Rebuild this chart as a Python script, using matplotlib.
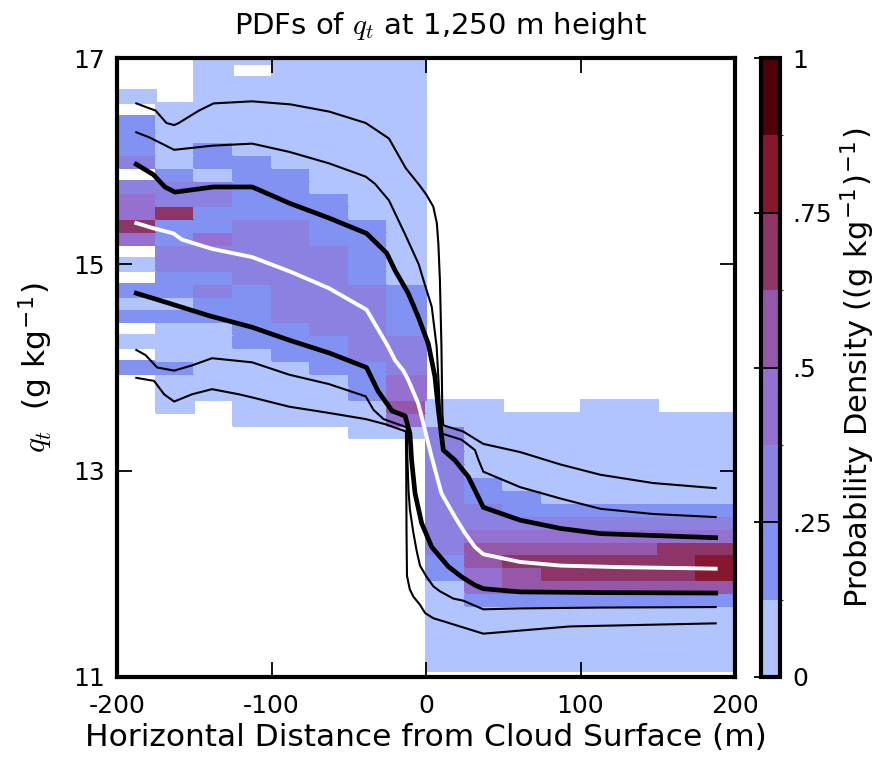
import numpy as np
import matplotlib
matplotlib.use("Agg")
import matplotlib.pyplot as plt
from matplotlib.colors import ListedColormap, BoundaryNorm

plt.rcParams["axes.unicode_minus"] = False
plt.rcParams["mathtext.fontset"] = "custom"
plt.rcParams["mathtext.it"] = "cmmi10"
plt.rcParams["mathtext.rm"] = "DejaVu Sans"

# histogram bins: 25 m in distance, 0.125 g/kg in q_t
x_edges = np.arange(-200, 201, 25)
y_edges = np.arange(11.0625, 17.1, 0.125)

# density class for each cell, top row (q_t = 17) first,
# '.' = no samples, digit = colour class of the colourbar (0 .. 7)
pdf_rows = [
    "..000000........",
    "..0.0000........",
    "..000000........",
    "0.000000........",
    ".0000000........",
    "10000000........",
    "10000000........",
    "10100000........",
    "20110000........",
    ".1011000........",
    "22211000........",
    "32211100........",
    "35111100........",
    "51122110........",
    "31322110........",
    ".2222210........",
    "02222210........",
    ".1122210........",
    "11212221........",
    "00112221........",
    "11112221........",
    ".0011221........",
    "00011122........",
    ".0001122........",
    "11000112........",
    ".0000013........",
    ".0000013........",
    ".0.0000400..00..",
    "...0000300000000",
    "......0020000000",
    "........20000000",
    "........20000000",
    "........20000000",
    "........21000000",
    "........21100000",
    "........22111111",
    "........22222222",
    "........23333333",
    "........24444455",
    "........14555556",
    "........13455556",
    "........03444444",
    "........01111111",
    "........00000000",
    "........00000000",
    "........00000000",
    "........00000000",
    "........00000000",
]
class_density = [0.06, 0.19, 0.31, 0.44, 0.56, 0.69, 0.81, 0.94]

level_colors = ["#b2c4fd", "#8192f2", "#8b81e1", "#9570d0",
                "#9558a8", "#8c3566", "#87172e", "#520008"]
level_bounds = [0, 0.125, 0.25, 0.375, 0.5, 0.625, 0.75, 0.875, 1.0]

# percentile curves
p95_x = [-187.5, -175, -168, -163, -160, -147, -137.5, -112.5, -87.5, -62.5, -39, -24, -13,
         -4.4, 0, 4.7, 7, 8, 9, 10, 10.6, 11.2, 24, 37, 61, 87, 113, 147, 187.5]
p95_y = [16.56, 16.49, 16.37, 16.35, 16.37, 16.49, 16.56, 16.58, 16.55, 16.48, 16.37, 16.22, 15.93,
         15.77, 15.68, 15.56, 15.40, 15.20, 14.85, 14.20, 13.55, 13.44, 13.38, 13.26, 13.18, 13.06,
         12.96, 12.88, 12.83]

p90_x = [-187.5, -179, -163, -138.5, -112.5, -88.5, -63, -39, -33, -24, -13.5, -4.7, -1.7, 3.7,
         6.9, 8.0, 9.1, 10.2, 23, 31.7, 33.8, 37.1, 61, 87, 113, 147, 187.5]
p90_y = [16.28, 16.23, 16.11, 16.15, 16.17, 16.09, 15.98, 15.85, 15.78, 15.62, 15.29, 15.00, 14.85,
         14.59, 14.20, 13.90, 13.57, 13.36, 13.30, 13.20, 13.11, 12.99, 12.84, 12.73, 12.63, 12.58,
         12.55]

p75_x = [-187.5, -176.5, -169, -162.5, -137.5, -112.5, -88, -63, -38.5, -25.5, -20, -11.5, -5,
         1.5, 5.8, 8.0, 11.2, 18.8, 27.4, 31.7, 37.1, 61, 87, 113, 187.5]
p75_y = [15.97, 15.87, 15.75, 15.70, 15.75, 15.75, 15.59, 15.45, 15.30, 15.11, 14.94, 14.72, 14.49,
         14.23, 13.91, 13.59, 13.20, 13.10, 12.94, 12.81, 12.645, 12.52, 12.44, 12.39, 12.35]

p50_x = [-187.5, -176.5, -163.5, -158, -138.5, -112.5, -88, -63, -38.5, -25.5, -20, -14.7, -11.5,
         -5, -0.6, 3.7, 10, 18.8, 25, 31.7, 37.1, 61, 87, 125, 187.5]
p50_y = [15.40, 15.35, 15.30, 15.24, 15.15, 15.07, 14.93, 14.77, 14.56, 14.23, 14.07, 13.97, 13.88,
         13.65, 13.39, 13.13, 12.78, 12.55, 12.40, 12.26, 12.19, 12.115, 12.08, 12.065, 12.05]

p25_x = [-187.5, -170, -140, -112.5, -87.5, -62.5, -38.5, -31, -22, -13.5, -10.4, -9.3, -7.1, -2.8,
         3.7, 14.5, 23.1, 31.7, 37.1, 61, 113, 187.5]
p25_y = [14.72, 14.64, 14.50, 14.39, 14.26, 14.14, 14.00, 13.77, 13.58, 13.53, 13.36, 13.10, 12.78,
         12.49, 12.26, 12.07, 11.97, 11.89, 11.856, 11.825, 11.818, 11.814]

p10_x = [-187.5, -181.5, -174, -163, -151.5, -138.5, -112.5, -88.5, -63, -39, -34, -27.5, -12.5,
         -12, -11.3, -10.4, -8.2, -6, -3.9, 0, 4.7, 9.1, 17.7, 24.1, 37.1, 61, 113, 187.5]
p10_y = [14.17, 14.12, 14.00, 13.97, 14.02, 14.09, 14.05, 13.93, 13.84, 13.72, 13.59, 13.50, 13.42,
         13.10, 12.80, 12.62, 12.40, 12.22, 12.08, 11.98, 11.88, 11.83, 11.76, 11.74, 11.656, 11.665,
         11.673, 11.678]

p5_x = [-187.5, -176, -169.5, -163, -151.5, -138.5, -121, -112.5, -88.5, -63, -39, -26.3, -13,
        -12.8, -12.6, -12.3, -10.5, -8.2, -3.9, -0.6, 4.7, 13.4, 37.1, 61, 93, 187.5]
p5_y = [13.90, 13.87, 13.74, 13.67, 13.74, 13.79, 13.74, 13.71, 13.62, 13.56, 13.50, 13.45, 13.38,
        13.0, 12.4, 11.98, 11.85, 11.78, 11.70, 11.62, 11.57, 11.53, 11.42, 11.45, 11.49, 11.52]

# build density grid (flip so the first row is the lowest q_t bin)
dens = np.full((len(pdf_rows), len(pdf_rows[0])), np.nan)
for i, row in enumerate(pdf_rows):
    for j, c in enumerate(row):
        if c != ".":
            dens[i, j] = class_density[int(c)]
dens = np.ma.masked_invalid(dens[::-1])

cmap = ListedColormap(level_colors)
norm = BoundaryNorm(level_bounds, cmap.N)

fig = plt.figure(figsize=(8.82, 7.58), dpi=100)
ax = fig.add_axes([117 / 882, 81 / 758, 618 / 882, 619 / 758])
cax = fig.add_axes([761 / 882, 81 / 758, 19 / 882, 619 / 758])

mesh = ax.pcolormesh(x_edges, y_edges, dens, cmap=cmap, norm=norm,
                     edgecolors="face", linewidth=0.2)

for xs, ys in [(p95_x, p95_y), (p90_x, p90_y), (p10_x, p10_y), (p5_x, p5_y)]:
    ax.plot(xs, ys, color="black", lw=1.5, solid_joinstyle="round")
for xs, ys in [(p75_x, p75_y), (p25_x, p25_y)]:
    ax.plot(xs, ys, color="black", lw=3.4, solid_joinstyle="round")
ax.plot(p50_x, p50_y, color="white", lw=2.8, solid_joinstyle="round")

ax.set_xlim(-200, 200)
ax.set_ylim(11, 17)
ax.set_xticks([-200, -100, 0, 100, 200])
ax.set_yticks([11, 13, 15, 17])
ax.tick_params(direction="in", length=11, width=1.3, top=True, right=True,
               labelsize=18, pad=9)
ax.tick_params(axis="x", pad=12)
for sp in ax.spines.values():
    sp.set_linewidth(3.0)

ax.set_title("PDFs of $q_t$ at 1,250 m height", fontsize=21, pad=17, x=0.524)
ax.set_xlabel("Horizontal Distance from Cloud Surface (m)", fontsize=22.5, labelpad=4)
ax.set_ylabel("$q_t$  (g kg$^{-1}$)", fontsize=22.5, labelpad=13)

cb = fig.colorbar(mesh, cax=cax, ticks=[0, 0.25, 0.5, 0.75, 1])
cb.ax.set_yticklabels(["0", ".25", ".5", ".75", "1"])
cb.outline.set_linewidth(3.0)
cax.tick_params(direction="in", length=19, width=1.3, labelsize=18, pad=9)
cb.set_label("Probability Density ((g kg$^{-1}$)$^{-1}$)", fontsize=22, labelpad=5)

fig.savefig("out.png", dpi=100)
